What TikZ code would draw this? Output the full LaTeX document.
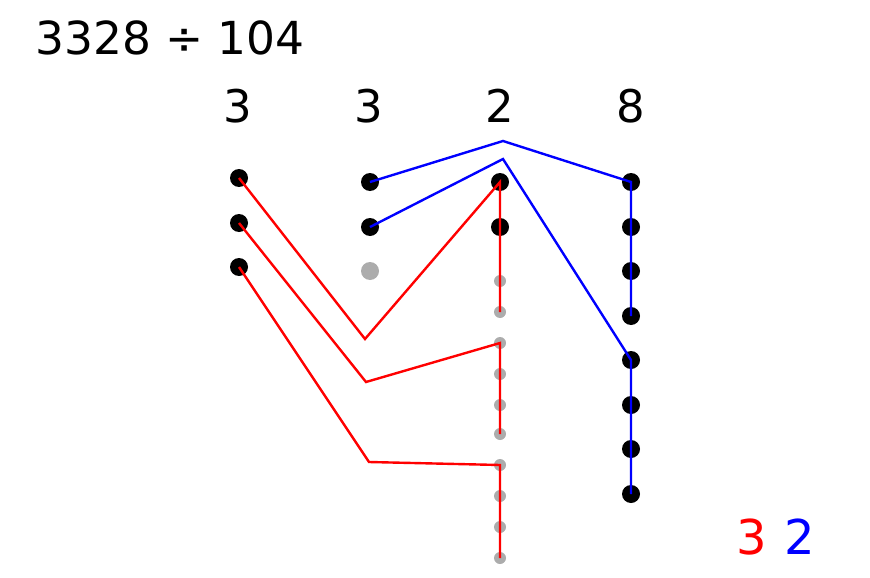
\documentclass[tikz,border=0pt]{standalone}
\usepackage{fontspec}
\setmainfont{DejaVu Sans}

\begin{document}
\begin{tikzpicture}[x=1pt, y=-1pt, line width=2.4pt,
      every node/.append style={inner sep=0pt},
      bead/.style={circle, fill=black, minimum size=18pt},
      spare/.style={circle, fill=gray!65, minimum size=18pt},
      crumb/.style={circle, fill=gray!65, minimum size=12pt},
      digit/.style={anchor=base, font=\fontsize{45}{45}\selectfont}]
    \useasboundingbox (0,0) rectangle (870,578);
    \node (title) [anchor=base west, font=\fontsize{45.5}{45.5}\selectfont] at (34,55) {3328 ÷ 104};
    \node (n1) [digit] at (238,122) {3};
    \node (n2) [digit] at (369,122) {3};
    \node (n3) [digit] at (500,122) {2};
    \node (n4) [digit] at (631,122) {8};
    % dots
    \node (A1) [bead] at (239,178) {};
    \node (A2) [bead] at (239,223) {};
    \node (A3) [bead] at (239,267) {};
    \node (B1) [bead] at (370,182) {};
    \node (B2) [bead] at (370,227) {};
    \node (B3) [spare] at (370,271) {};
    \node (C1) [bead] at (500,182) {};
    \node (C2) [bead] at (500,227) {};
    \foreach \i/\y in {1/281, 2/312, 3/343, 4/374, 5/405, 6/434, 7/465, 8/496, 9/527, 10/558}
      \node (c\i) [crumb] at (500,\y) {};
    \foreach \i/\y in {1/182, 2/227, 3/271, 4/316, 5/360, 6/405, 7/449, 8/494}
      \node (D\i) [bead] at (631,\y) {};
    % bends
    \coordinate (V1) at (365,339);
    \coordinate (V2) at (366,382);
    \coordinate (V3) at (369,462);
    \coordinate (W1) at (503,141);
    \coordinate (W2) at (503,159);
    \draw[red] (A1.center) -- (V1) -- (C1.center) -- (c2.center);
    \draw[red] (A2.center) -- (V2) -- (c3.center) -- (c6.center);
    \draw[red] (A3.center) -- (V3) -- (c7.center) -- (c10.center);
    \draw[blue] (B1.center) -- (W1) -- (D1.center) -- (D4.center);
    \draw[blue] (B2.center) -- (W2) -- (D5.center) -- (D8.center);
    \node (q1) [anchor=base, red, font=\fontsize{48}{48}\selectfont] at (752,554) {3};
    \node (q2) [anchor=base, blue, font=\fontsize{48}{48}\selectfont] at (800,554) {2};
  \end{tikzpicture}
\end{document}
